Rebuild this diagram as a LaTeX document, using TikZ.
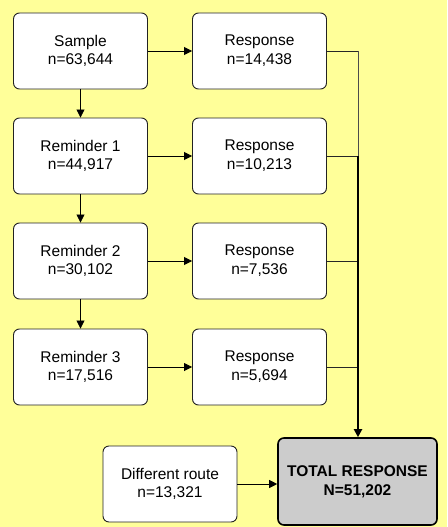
\documentclass[tikz,border=0pt]{standalone}
\usepackage{fontspec}
\setmainfont{Liberation Sans}
\usetikzlibrary{arrows.meta}
\definecolor{bgyellow}{HTML}{FFFF99}
\definecolor{totalgray}{HTML}{CCCCCC}
\definecolor{boxline}{HTML}{222222}
\begin{document}
\begin{tikzpicture}[x=1pt,y=-1pt,
  flowbox/.style={draw=boxline,line width=0.9pt,fill=white,rounded corners=6pt,
    minimum width=134pt,minimum height=76pt,align=center,inner sep=0pt,
    font=\fontsize{15.5}{18.7}\selectfont},
  totalbox/.style={draw=black,line width=1.6pt,fill=totalgray,rounded corners=6pt,
    minimum width=159pt,minimum height=87pt,align=center,inner sep=0pt,
    font=\fontsize{15.5}{18.7}\selectfont\bfseries},
  flowarrow/.style={draw=black,line width=0.8pt,-{Triangle[length=8pt,width=8pt]}},
  feed/.style={draw=black!85,line width=0.8pt}]
\path[fill=bgyellow] (0,0) rectangle (447,527);
\useasboundingbox (0,0) rectangle (447,527);

\node[flowbox] (s)  at (80.5,51)  {Sample\\n=63,644};
\node[flowbox] (r1) at (80.5,156) {Reminder 1\\n=44,917};
\node[flowbox] (r2) at (80.5,261) {Reminder 2\\n=30,102};
\node[flowbox] (r3) at (80.5,367) {Reminder 3\\n=17,516};

\node[flowbox] (p0) at (259.5,51)  {Response\\n=14,438};
\node[flowbox] (p1) at (259.5,156) {Response\\n=10,213};
\node[flowbox] (p2) at (259.5,261) {Response\\n=7,536};
\node[flowbox] (p3) at (259.5,367) {Response\\n=5,694};

\node[flowbox] (dr) at (170,484) {Different route\\n=13,321};
\node[totalbox] (tot) at (357.5,481.5) {TOTAL RESPONSE\\N=51,202};

\draw[flowarrow] (s) -- (r1);
\draw[flowarrow] (r1) -- (r2);
\draw[flowarrow] (r2) -- (r3);
\draw[flowarrow] (s) -- (p0);
\draw[flowarrow] (r1) -- (p1);
\draw[flowarrow] (r2) -- (p2);
\draw[flowarrow] (r3) -- (p3);
\draw[flowarrow] (dr) -- (dr -| tot.west);

\coordinate (j0) at (358,51);
\coordinate (j1) at (358,156);
\coordinate (j2) at (358,261);
\coordinate (j3) at (358,367);

\draw[feed] (p0.east) -- (j0);
\draw[feed] (p1.east) -- (j1);
\draw[feed] (p2.east) -- (j2);
\draw[feed] (p3.east) -- (j3);
\draw[draw=black!70,line width=0.9pt] (j0) -- (j1);
\draw[draw=black,line width=1.2pt] (j1) -- (j2);
\draw[draw=black,line width=1.5pt] (j2) -- (j3);
\draw[draw=black,line width=1.9pt,-{Triangle[length=8pt,width=8pt]}] (j3) -- (j3 |- tot.north);
\end{tikzpicture}
\end{document}
